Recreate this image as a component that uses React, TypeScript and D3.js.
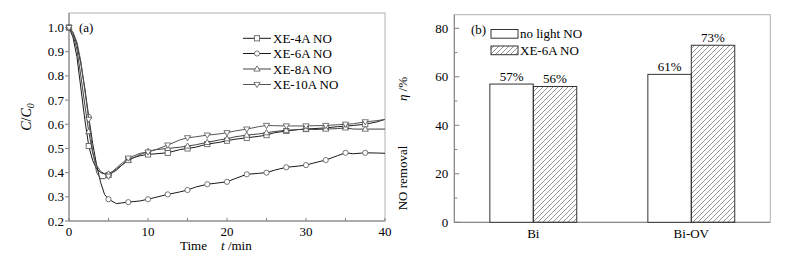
import React from "react";
import * as d3 from "d3";

// ---------- data ----------
const TIMES = [0, 0.5, 1, 1.5, 2, 2.5, 3, 3.5, 4, 4.5, 5, 6, 7.5, 9, 10, 11, 12.5, 14, 15, 16, 17.5, 19, 20, 21, 22.5, 24, 25, 26, 27.5, 29, 30, 31, 32.5, 34, 35, 36, 37.5, 39, 40];
const XE4A = [1.0, 0.96, 0.88, 0.75, 0.62, 0.51, 0.45, 0.415, 0.4, 0.395, 0.39, 0.41, 0.455, 0.47, 0.475, 0.478, 0.482, 0.495, 0.5, 0.505, 0.518, 0.525, 0.532, 0.538, 0.544, 0.55, 0.555, 0.565, 0.572, 0.578, 0.58, 0.582, 0.585, 0.59, 0.592, 0.595, 0.6, 0.61, 0.62];
const XE6A = [1.0, 0.98, 0.93, 0.85, 0.75, 0.63, 0.52, 0.43, 0.36, 0.31, 0.29, 0.272, 0.278, 0.283, 0.29, 0.298, 0.31, 0.32, 0.328, 0.34, 0.352, 0.358, 0.362, 0.375, 0.393, 0.397, 0.4, 0.41, 0.422, 0.427, 0.431, 0.44, 0.452, 0.47, 0.482, 0.478, 0.482, 0.481, 0.48];
const XE8A = [1.0, 0.97, 0.91, 0.8, 0.68, 0.57, 0.48, 0.43, 0.405, 0.395, 0.395, 0.415, 0.45, 0.475, 0.488, 0.495, 0.5, 0.505, 0.51, 0.515, 0.525, 0.535, 0.54, 0.548, 0.555, 0.56, 0.565, 0.57, 0.575, 0.578, 0.58, 0.578, 0.58, 0.582, 0.585, 0.58, 0.58, 0.58, 0.58];
const XE10A = [1.0, 0.98, 0.94, 0.86, 0.74, 0.62, 0.49, 0.4, 0.375, 0.375, 0.385, 0.42, 0.46, 0.48, 0.485, 0.495, 0.514, 0.535, 0.544, 0.548, 0.555, 0.56, 0.565, 0.572, 0.58, 0.59, 0.595, 0.594, 0.593, 0.593, 0.593, 0.594, 0.595, 0.598, 0.6, 0.602, 0.61, 0.615, 0.62];
const SERIES_NAMES = ["XE-4A NO", "XE-6A NO", "XE-8A NO", "XE-10A NO"];
const SERIES_VALUES = [XE4A, XE6A, XE8A, XE10A];
const LEFT_X_TICKS = [0, 10, 20, 30, 40];
const LEFT_X_MINOR = [5, 15, 25, 35];
const LEFT_Y_TICKS = [0.2, 0.3, 0.4, 0.5, 0.6, 0.7, 0.8, 0.9, 1.0];

const BAR_GROUPS = ["Bi", "Bi-OV"];
const BAR_SERIES = ["no light NO", "XE-6A NO"];
const NO_LIGHT = [57, 61];
const XE6A_BAR = [56, 73];
const RIGHT_Y_TICKS = [0, 20, 40, 60, 80];
const RIGHT_Y_MINOR = [10, 30, 50, 70];

// ---------- styles ----------
const FONT = "'Liberation Serif', 'Times New Roman', serif";
const AXIS = "#808080";
const FRAME = "#b0b0b0";
const LINE_COLORS = ["#1a1a1a", "#1a1a1a", "#444", "#555"];
const MARKER_COLOR = "#555";
const MARKERS = ["square", "circle", "triangleUp", "triangleDown"];

function Marker({ type, x, y }: { type: string; x: number; y: number }) {
  const s = 2.6;
  const common = { fill: "#fff", stroke: MARKER_COLOR, strokeWidth: 0.8 };
  if (type === "square") return <rect x={x - s} y={y - s} width={2 * s} height={2 * s} {...common} />;
  if (type === "circle") return <circle cx={x} cy={y} r={s} {...common} />;
  if (type === "triangleUp")
    return <path d={`M${x},${y - s - 0.5} L${x + s + 0.5},${y + s - 0.5} L${x - s - 0.5},${y + s - 0.5} Z`} {...common} />;
  return <path d={`M${x},${y + s + 0.5} L${x + s + 0.5},${y - s + 0.5} L${x - s - 0.5},${y - s + 0.5} Z`} {...common} />;
}

export default function App() {
  // ---- left chart ----
  const lx = d3.scaleLinear().domain([0, 40]).range([69, 385]);
  const ly = d3.scaleLinear().domain([0.2, 1.06]).range([221, 13]);
  const line = d3
    .line<[number, number]>()
    .x((d) => lx(d[0]))
    .y((d) => ly(d[1]));

  // ---- right chart ----
  const rLeft = 454.3,
    rRight = 770.3;
  const rx = d3.scaleBand<string>().domain(BAR_GROUPS).range([rLeft, rRight]).paddingInner(0.45).paddingOuter(0.225);
  const rxInner = d3.scaleBand<string>().domain(BAR_SERIES).range([0, rx.bandwidth()]);
  const ry = d3.scaleLinear().domain([0, 85.6]).range([222.3, 14.7]);
  const barData = [NO_LIGHT, XE6A_BAR];

  return (
    <svg width={791} height={260} style={{ position: "absolute", left: 0, top: 0, background: "#fff" }} fontFamily={FONT}>
      <defs>
        <pattern id="hatch" patternUnits="userSpaceOnUse" width={5} height={5}>
          <path d="M0,5 L5,0 M-1,1 L1,-1 M4,6 L6,4" stroke="#666" strokeWidth={0.7} />
        </pattern>
      </defs>

      {/* ===== Left chart ===== */}
      <rect x={lx(0)} y={ly(1.06)} width={lx(40) - lx(0)} height={ly(0.2) - ly(1.06)} fill="none" stroke={FRAME} strokeWidth={1} />
      <line x1={lx(0)} x2={lx(40)} y1={ly(0.2)} y2={ly(0.2)} stroke={AXIS} />
      <line x1={lx(0)} x2={lx(0)} y1={ly(0.2)} y2={ly(1.06)} stroke={AXIS} />
      {LEFT_Y_TICKS.map((t) => (
        <g key={"ly" + t}>
          <line x1={lx(0) - 4} x2={lx(0)} y1={ly(t)} y2={ly(t)} stroke={AXIS} />
          <text x={lx(0) - 5} y={ly(t) + 4.5} fontSize={13} textAnchor="end">
            {t.toFixed(1)}
          </text>
        </g>
      ))}
      {LEFT_X_TICKS.map((t) => (
        <g key={"lx" + t}>
          <line x1={lx(t)} x2={lx(t)} y1={ly(0.2)} y2={ly(0.2) - 3} stroke={AXIS} />
          <text x={lx(t)} y={236} fontSize={13} textAnchor="middle">
            {t}
          </text>
        </g>
      ))}
      {LEFT_X_MINOR.map((t) => (
        <line key={"lxm" + t} x1={lx(t)} x2={lx(t)} y1={ly(0.2)} y2={ly(0.2) - 3} stroke={AXIS} />
      ))}
      <text x={180} y={250} fontSize={13}>
        Time
      </text>
      <text x={221} y={250} fontSize={13}>
        <tspan fontStyle="italic">t</tspan> /min
      </text>
      <text transform={`translate(31,${(ly(0.2) + ly(1.06)) / 2}) rotate(-90)`} fontSize={14} textAnchor="middle">
        <tspan fontStyle="italic">C</tspan>/<tspan fontStyle="italic">C</tspan>
        <tspan fontStyle="italic" fontSize={10} dy={3}>
          0
        </tspan>
      </text>
      <text x={79} y={32} fontSize={13}>
        (a)
      </text>

      {SERIES_VALUES.map((vals, si) => {
        const pts: [number, number][] = TIMES.map((t, i) => [t, vals[i]]);
        return (
          <g key={"s" + si}>
            <path d={line(pts) || ""} fill="none" stroke={LINE_COLORS[si]} strokeWidth={1} />
            {pts
              .filter((p) => Math.abs(p[0] / 2.5 - Math.round(p[0] / 2.5)) < 1e-6 && p[0] < 40)
              .map((p, k) => (
                <Marker key={k} type={MARKERS[si]} x={lx(p[0])} y={ly(p[1])} />
              ))}
          </g>
        );
      })}

      {/* left legend */}
      {SERIES_NAMES.map((name, i) => {
        const y = [38.3, 53.5, 69, 84.5][i];
        return (
          <g key={"lg" + i}>
            <line x1={243} x2={271} y1={y} y2={y} stroke={LINE_COLORS[i]} />
            <Marker type={MARKERS[i]} x={257} y={y} />
            <text x={273} y={y + 4.5} fontSize={13}>
              {name}
            </text>
          </g>
        );
      })}

      {/* ===== Right chart ===== */}
      <rect x={rLeft} y={ry(85.6)} width={rRight - rLeft} height={ry(0) - ry(85.6)} fill="none" stroke={FRAME} />
      <line x1={rLeft} x2={rRight} y1={ry(0)} y2={ry(0)} stroke={AXIS} />
      <line x1={rLeft} x2={rLeft} y1={ry(0)} y2={ry(85.6)} stroke={AXIS} />
      {RIGHT_Y_TICKS.map((t) => (
        <g key={"ry" + t}>
          <line x1={rLeft} x2={rLeft + 5} y1={ry(t)} y2={ry(t)} stroke={AXIS} />
          <text x={rLeft - 6} y={ry(t) + 4.5} fontSize={13} textAnchor="end">
            {t}
          </text>
        </g>
      ))}
      {RIGHT_Y_MINOR.map((t) => (
        <line key={"rym" + t} x1={rLeft} x2={rLeft + 3} y1={ry(t)} y2={ry(t)} stroke={AXIS} />
      ))}
      {BAR_GROUPS.map((g) => (
        <text key={"rx" + g} x={(rx(g) || 0) + rx.bandwidth() / 2} y={238} fontSize={13} textAnchor="middle">
          {g}
        </text>
      ))}
      <text transform={`translate(407,178) rotate(-90)`} fontSize={13} textAnchor="middle">
        NO removal
      </text>
      <text transform={`translate(407,89) rotate(-90)`} fontSize={13} textAnchor="middle">
        <tspan fontStyle="italic">η</tspan> /%
      </text>

      {BAR_SERIES.map((s, si) =>
        BAR_GROUPS.map((g, gi) => {
          const v = barData[si][gi];
          const x0 = (rx(g) || 0) + (rxInner(s) || 0);
          const w = rxInner.bandwidth();
          return (
            <g key={s + g}>
              <rect
                x={x0}
                y={ry(v)}
                width={w}
                height={ry(0) - ry(v)}
                fill={si === 0 ? "#fff" : "url(#hatch)"}
                stroke="#333"
                strokeWidth={1}
              />
              <text x={x0 + w / 2} y={ry(v) - 3.5} fontSize={13} textAnchor="middle">
                {v}%
              </text>
            </g>
          );
        })
      )}

      <text x={471} y={34} fontSize={13}>
        (b)
      </text>
      {BAR_SERIES.map((s, i) => {
        const y = [29.5, 46][i];
        return (
          <g key={"rl" + i}>
            <rect x={491} y={y} width={27} height={8.7} fill={i === 0 ? "#fff" : "url(#hatch)"} stroke="#333" />
            <text x={520} y={y + 8.7} fontSize={13}>
              {s}
            </text>
          </g>
        );
      })}
    </svg>
  );
}
